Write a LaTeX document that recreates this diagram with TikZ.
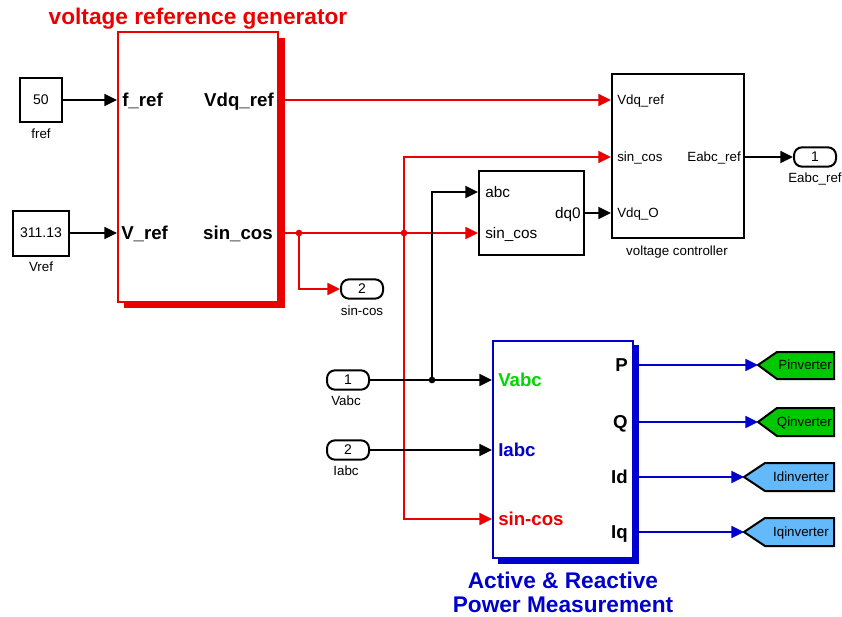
\documentclass[tikz,border=0pt]{standalone}
\usepackage{fontspec}
\setmainfont{Liberation Sans}
\usetikzlibrary{arrows.meta}
\definecolor{sred}{RGB}{235,0,0}
\definecolor{sblue}{RGB}{0,0,205}
\definecolor{sgreen}{RGB}{0,215,0}
\definecolor{tgreen}{RGB}{0,200,0}
\definecolor{tblue}{RGB}{100,185,250}
\begin{document}
\begin{tikzpicture}[x=0.75pt,y=-0.75pt,
  sig/.style={line width=1.3pt,-{Triangle[length=9.5pt,width=9pt]}},
  small/.style={font=\fontsize{10}{12}\selectfont, inner sep=0pt, text height=7.2pt, text depth=0pt},
  mid/.style={font=\fontsize{11.5}{13}\selectfont, inner sep=0pt, text height=8.3pt, text depth=0pt},
  big/.style={font=\fontsize{14}{16}\selectfont\bfseries, inner sep=0pt, text height=10pt, text depth=0pt},
  ttl/.style={font=\fontsize{17}{18}\selectfont\bfseries, inner sep=0pt, align=center},
  blk/.style={draw, line width=1.5pt, fill=white, inner sep=0pt},
  port/.style={draw, line width=1.5pt, rounded corners=6pt, inner sep=0pt, minimum width=31.5pt, minimum height=14.5pt, font=\fontsize{10.5}{12}\selectfont},
  tagshape/.style={line width=1.5pt, draw=black},
  dot/.style={circle, fill, inner sep=0pt, minimum size=5pt},
]
\useasboundingbox (0,0) rectangle (842,617);

% ---------- voltage reference generator ----------
\node[ttl, text=sred] (ttlA) at (198,19) {voltage reference generator};
\fill[sred] (124,38) rectangle (285,308);
\node[blk, draw=sred, minimum width=120pt, minimum height=202.5pt] (vrg) at (198,167) {};
\node[big, anchor=west] (vrgI1) at (122,100) {f\_ref};
\node[big, anchor=west] (vrgI2) at (121,233) {V\_ref};
\node[big, anchor=east] (vrgO1) at (274,100) {Vdq\_ref};
\node[big, anchor=east] (vrgO2) at (273,233) {sin\_cos};
\coordinate (vrgA) at (285,100);
\coordinate (vrgB) at (285,233);

% constants
\node[blk, minimum width=31.5pt, minimum height=32.25pt, font=\fontsize{10.5}{12}\selectfont] (c50) at (41,100) {50};
\node[small, anchor=center] (c50l) at (41,134) {fref};
\node[blk, minimum width=42pt, minimum height=33.75pt, font=\fontsize{10.5}{12}\selectfont] (c311) at (41,233) {311.13};
\node[small, anchor=center] (c311l) at (41,267) {Vref};
\draw[sig] (c50.east) -- (c50.east -| vrg.west);
\draw[sig] (c311.east) -- (c311.east -| vrg.west);

% ---------- abc -> dq0 ----------
\node[blk, minimum width=78.75pt, minimum height=63pt] (dq) at (531.5,213) {};
\node[mid, anchor=west] (dqI1) at (485,192) {abc};
\node[mid, anchor=west] (dqI2) at (485,233) {sin\_cos};
\node[mid, anchor=east] (dqO1) at (581,213) {dq0};

% ---------- voltage controller ----------
\node[blk, minimum width=99pt, minimum height=123pt] (vc) at (678,156) {};
\node[small, anchor=west] (vcI1) at (617,100) {Vdq\_ref};
\node[small, anchor=west] (vcI2) at (617,157) {sin\_cos};
\node[small, anchor=west] (vcI3) at (617,213) {Vdq\_O};
\node[small, anchor=east] (vcO1) at (741,157) {Eabc\_ref};
\node[small, anchor=center] (vcl) at (677,251) {voltage controller};

% ---------- ports ----------
\node[port] (o1) at (815,157) {1};
\node[small, anchor=center] (o1l) at (815,178) {Eabc\_ref};
\node[port] (o2) at (362,289) {2};
\node[small, anchor=center] (o2l) at (362,311) {sin-cos};
\node[port] (i1) at (348,380) {1};
\node[small, anchor=center] (i1l) at (346,401) {Vabc};
\node[port] (i2) at (348,450) {2};
\node[small, anchor=center] (i2l) at (346,471) {Iabc};

% ---------- power measurement ----------
\fill[sblue] (498,345) rectangle (639,564);
\node[blk, draw=sblue, minimum width=105pt, minimum height=162.75pt] (pm) at (563,449.5) {};
\node[big, anchor=west, text=sgreen] (pmI1) at (498,380) {Vabc};
\node[big, anchor=west, text=sblue] (pmI2) at (498,450) {Iabc};
\node[big, anchor=west, text=sred] (pmI3) at (498,519) {sin-cos};
\node[big, anchor=east] (pmO1) at (628,365) {P};
\node[big, anchor=east] (pmO2) at (628,422) {Q};
\node[big, anchor=east] (pmO3) at (628,477) {Id};
\node[big, anchor=east] (pmO4) at (628,532) {Iq};
\node[ttl, text=sblue] (ttlB) at (563,592) {Active \& Reactive\\Power Measurement};

% ---------- goto tags ----------
\filldraw[tagshape, fill=tgreen] (758,365) coordinate (tP) -- (777,352) -- (834,352) -- (834,379) -- (777,379) -- cycle;
\node[small, anchor=east] (tPl) at (832,365) {Pinverter};
\filldraw[tagshape, fill=tgreen] (758,422) coordinate (tQ) -- (777,408) -- (834,408) -- (834,436) -- (777,436) -- cycle;
\node[small, anchor=east] (tQl) at (832,422) {Qinverter};
\filldraw[tagshape, fill=tblue] (744,477) coordinate (tId) -- (765,463) -- (834,463) -- (834,491) -- (765,491) -- cycle;
\node[small, anchor=east] (tIdl) at (829,477) {Idinverter};
\filldraw[tagshape, fill=tblue] (744,532) coordinate (tIq) -- (765,518) -- (834,518) -- (834,546) -- (765,546) -- cycle;
\node[small, anchor=east] (tIql) at (829,532) {Iqinverter};

% ---------- red connections ----------
\coordinate (j1) at (299,233);
\coordinate (j2) at (404,233);
\draw[sig, sred] (vrgA) -- (vrgA -| vc.west);
\draw[sig, sred] (vrgB) -- (vrgB -| dq.west);
\draw[sig, sred] (j1) |- (o2.west);
\draw[sig, sred] (j2) |- (vc.west |- vcI2);
\draw[sig, sred] (j2) |- (pm.west |- pmI3);
\node[dot, sred] (dj1) at (j1) {};
\node[dot, sred] (dj2) at (j2) {};

% ---------- black connections ----------
\coordinate (j3) at (432,380);
\draw[sig] (i1.east) -- (i1.east -| pm.west);
\draw[sig] (i2.east) -- (i2.east -| pm.west);
\draw[sig] (j3) |- (dq.west |- dqI1);
\node[dot] (dj3) at (j3) {};
\draw[sig] (dq.east) -- (vc.west |- dq.east);
\draw[sig] (vc.east |- o1) -- (o1.west);

% ---------- blue connections ----------
\draw[sig, sblue] (639,365) -- (tP);
\draw[sig, sblue] (639,422) -- (tQ);
\draw[sig, sblue] (639,477) -- (tId);
\draw[sig, sblue] (639,532) -- (tIq);
\end{tikzpicture}
\end{document}
